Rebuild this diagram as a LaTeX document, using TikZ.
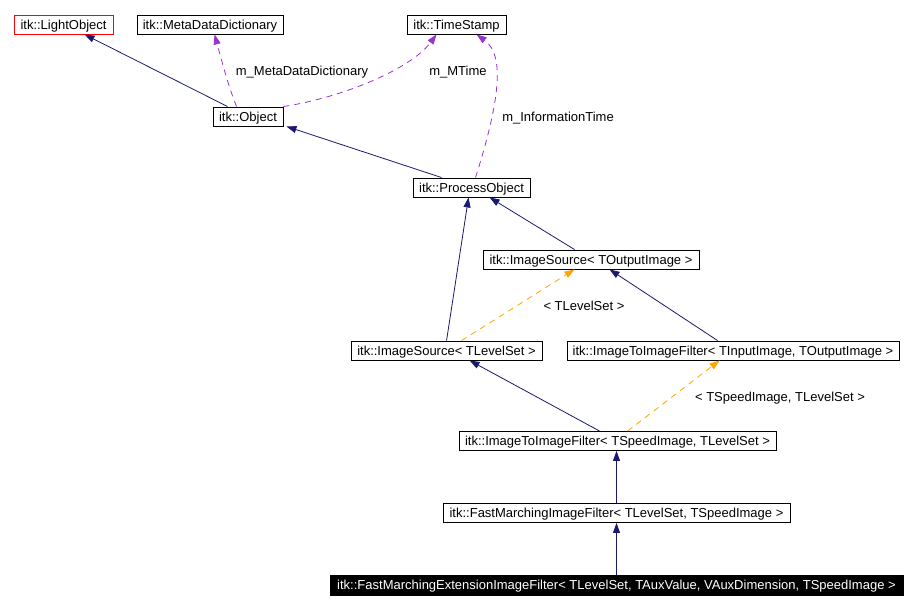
\documentclass[tikz,border=0pt]{standalone}
\usepackage{fontspec}
\setmainfont{Liberation Sans}
\usetikzlibrary{arrows.meta,calc}
\definecolor{navy}{RGB}{25,25,112}
\definecolor{purp}{RGB}{154,50,205}
\definecolor{orng}{RGB}{255,165,0}
\tikzset{
  cls/.style={draw=black,line width=0.9pt,rectangle,inner sep=0pt,minimum height=19pt,text height=9.5pt,text depth=0pt,font=\fontsize{13}{15}\selectfont,text=black},
  inh/.style={draw=navy,line width=0.8pt,-{Triangle[length=10pt,width=7pt]},navy},
  usage/.style={draw=purp,line width=0.8pt,dash pattern=on 6pt off 5pt,-{Triangle[length=10pt,width=7pt]},purp},
  tmpl/.style={draw=orng,line width=0.8pt,dash pattern=on 6pt off 5pt,-{Triangle[length=10pt,width=7pt]},orng},
  lbl/.style={font=\fontsize{13}{15}\selectfont,inner sep=0pt,text height=9.5pt,text depth=0pt}
}
\begin{document}
\begin{tikzpicture}[x=1pt,y=-1pt]
\useasboundingbox (0,0) rectangle (917,609);
\node[cls,draw=red,minimum width=99pt] (light) at (63.5,24.5) {itk::LightObject};
\node[cls,minimum width=146pt] (meta) at (210,24.5) {itk::MetaDataDictionary};
\node[cls,minimum width=99pt] (ts) at (456.5,24.5) {itk::TimeStamp};
\node[cls,minimum width=70pt] (obj) at (248,116.5) {itk::Object};
\node[cls,minimum width=117pt] (po) at (471.5,187.5) {itk::ProcessObject};
\node[cls,minimum width=216pt] (iso) at (591,259.5) {itk::ImageSource< TOutputImage >};
\node[cls,minimum width=191pt] (isl) at (446.5,350.5) {itk::ImageSource< TLevelSet >};
\node[cls,minimum width=332pt] (iti) at (733,350.5) {itk::ImageToImageFilter< TInputImage, TOutputImage >};
\node[cls,minimum width=317pt] (its) at (617.5,441) {itk::ImageToImageFilter< TSpeedImage, TLevelSet >};
\node[cls,minimum width=347pt] (fm) at (616.5,513) {itk::FastMarchingImageFilter< TLevelSet, TSpeedImage >};
\node[cls,fill=black,text=white,minimum width=573pt,minimum height=20pt] (bot) at (616.5,585) {itk::FastMarchingExtensionImageFilter< TLevelSet, TAuxValue, VAuxDimension, TSpeedImage >};

% inheritance
\draw[inh] ($(obj.north west)+(15,0)$) -- ($(light.south west)+(71,0)$);
\draw[inh] ($(po.north west)+(29,0)$) -- ($(obj.south east)+(3,0)$);
\draw[inh] ($(isl.north west)+(96,0)$) -- ($(po.south west)+(56,0)$);
\draw[inh] ($(iso.north west)+(92,0)$) -- ($(po.south west)+(77,0)$);
\draw[inh] ($(iti.north west)+(151,0)$) -- ($(iso.south west)+(127,0)$);
\draw[inh] ($(its.north west)+(141,0)$) -- ($(isl.south west)+(119,0)$);
\draw[inh] (fm.north) -- (fm.north |- its.south);
\draw[inh] (bot.north) -- (bot.north |- fm.south);

% usage
\draw[usage] ($(obj.north west)+(24,0)$) .. controls (229,88) and (222,62) .. ($(meta.south west)+(78,0)$);
\draw[usage] (obj.north east) .. controls (340,98) and (410,70) .. ($(ts.south west)+(30,0)$);
\draw[usage] ($(po.north west)+(63,0)$) .. controls (500,100) and (505,55) .. ($(ts.south west)+(70,0)$);

% template
\draw[tmpl] ($(isl.north west)+(111,0)$) -- ($(iso.south west)+(92,0)$);
\draw[tmpl] ($(its.north west)+(169,0)$) -- ($(iti.south west)+(153,0)$);

% labels
\node[lbl] (l1) at (302,71) {m\_MetaDataDictionary};
\node[lbl] (l2) at (458,71) {m\_MTime};
\node[lbl] (l3) at (558,117) {m\_InformationTime};
\node[lbl] (l4) at (584,306) {< TLevelSet >};
\node[lbl] (l5) at (780,397) {< TSpeedImage, TLevelSet >};
\end{tikzpicture}
\end{document}
